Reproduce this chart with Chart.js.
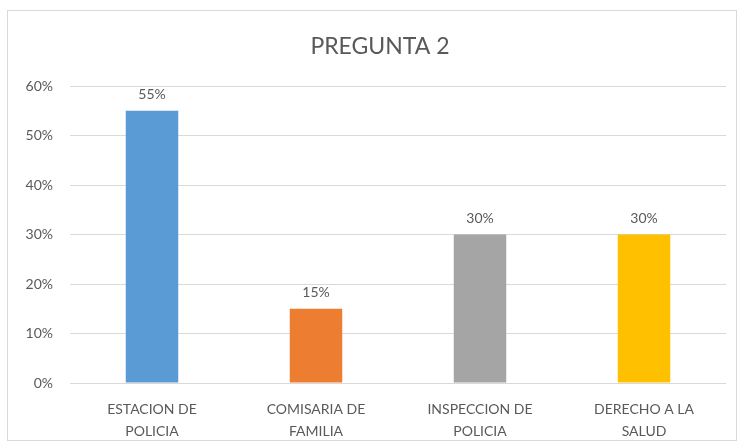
<!DOCTYPE html>
<html>
<head>
<meta charset="utf-8">
<script src="https://cdn.jsdelivr.net/npm/chart.js@4"></script>
<style>
  html, body { margin: 0; padding: 0; background: #fff; }
  #wrap { position: relative; width: 744px; height: 448px; }
</style>
</head>
<body>
<div id="wrap"><canvas id="myChart" width="744" height="448"></canvas></div>
<script>
  const categorias = [['ESTACION DE', 'POLICIA'], ['COMISARIA DE', 'FAMILIA'], ['INSPECCION DE', 'POLICIA'], ['DERECHO A LA', 'SALUD']];
  const valores = [55, 15, 30, 30];
  const colores = ['#5B9BD5', '#ED7D31', '#A5A5A5', '#FFC000'];
  const titulo = 'PREGUNTA 2';

  const fuente = 'Lato, "Open Sans", sans-serif';
  const gris = '#595959';

  // borde y titulo del grafico
  const marco = {
    id: 'marco',
    beforeDraw(chart) {
      const c = chart.ctx;
      c.save();
      c.strokeStyle = '#d9d9d9';
      c.lineWidth = 1;
      c.strokeRect(7.5, 10.5, 729, 430);
      c.fillStyle = gris;
      c.font = '23px ' + fuente;
      c.textAlign = 'center';
      c.textBaseline = 'middle';
      c.fillText(titulo, 380, 47);
      c.restore();
    }
  };

  // etiquetas de datos encima de cada barra
  const etiquetas = {
    id: 'etiquetas',
    afterDatasetsDraw(chart) {
      const c = chart.ctx;
      const meta = chart.getDatasetMeta(0);
      c.save();
      c.fillStyle = gris;
      c.font = '14px ' + fuente;
      c.textAlign = 'center';
      c.textBaseline = 'bottom';
      meta.data.forEach((bar, i) => {
        c.fillText(valores[i] + '%', bar.x, bar.y - 9);
      });
      c.restore();
    }
  };

  const ctx = document.getElementById('myChart');
  new Chart(ctx, {
    type: 'bar',
    data: {
      labels: categorias,
      datasets: [{
        data: valores,
        backgroundColor: colores,
        borderWidth: 0,
        categoryPercentage: 1,
        barPercentage: 0.32
      }]
    },
    options: {
      responsive: false,
      animation: false,
      layout: { padding: { left: 0, right: 18, bottom: 0, top: 86 } },
      plugins: {
        legend: { display: false },
        tooltip: { enabled: false },
        title: { display: false }
      },
      scales: {
        y: {
          min: 0,
          max: 60,
          ticks: {
            stepSize: 10,
            color: gris,
            padding: 17,
            font: { family: fuente, size: 14 },
            callback: v => v + '%'
          },
          grid: { color: '#d9d9d9', drawTicks: false },
          border: { display: false },
          afterFit(scale) { scale.width = 70; }
        },
        x: {
          ticks: {
            color: gris,
            padding: 16,
            maxRotation: 0,
            font: { family: fuente, size: 14, lineHeight: 1.55 }
          },
          grid: { display: false, drawTicks: false },
          border: { display: false },
          afterFit(scale) { scale.height = 65; }
        }
      }
    },
    plugins: [marco, etiquetas]
  });
</script>
</body>
</html>
